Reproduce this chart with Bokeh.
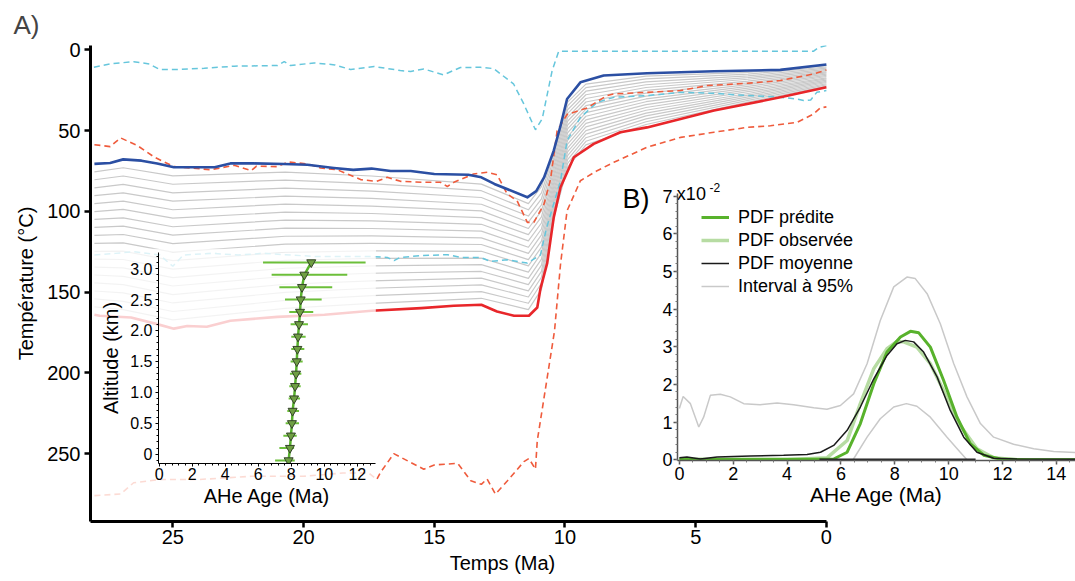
from bokeh.plotting import figure
from bokeh.models import GridBox, Range1d, Label, Legend, LegendItem, FixedTicker, CustomJSTickFormatter
from bokeh.embed import file_html
from bokeh.resources import INLINE

FONT = "Liberation Sans"

# ---------------- Panel A: thermal histories ----------------
TIME_TICKS = [25, 20, 15, 10, 5, 0]
TEMP_TICKS = [0, 50, 100, 150, 200, 250]

cyan_top_t = [28.02, 27.4, 26.5, 25.9, 25.5, 24.96, 23.8, 22.65, 21.0, 20.74, 20.5, 19.6, 18.8, 18.2,
              17.3, 16.3, 15.9, 15.4, 14.65, 14.0, 13.23, 12.73, 11.97, 11.59, 11.13, 10.87, 10.49,
              10.24, 8.0, 5.0, 2.0, 0.5, 0.3, 0.0]
cyan_top_T = [10.8, 8.7, 7.3, 8.7, 12.2, 12.2, 11.4, 10.1, 9.7, 7.3, 9.7, 8.1, 9.3, 12.2,
              10.3, 12.8, 13.4, 11.8, 15.5, 10.9, 10.8, 11.6, 21.0, 33.0, 49.5, 42.6, 12.8,
              0.9, 0.9, 0.9, 0.9, 0.9, -1.5, -2.7]

blue_t = [28.0, 27.4, 26.9, 26.2, 25.6, 24.96, 23.4, 22.8, 21.9, 20.75, 19.85, 18.84, 18.1, 17.4,
          16.67, 15.9, 15.0, 13.7, 13.2, 12.7, 11.44, 11.1, 10.8, 10.43, 10.17, 9.92, 9.41, 8.52,
          6.86, 4.3, 1.76, 0.0]
blue_T = [70.6, 70.0, 67.8, 68.6, 70.3, 72.7, 72.7, 70.3, 70.3, 70.7, 71.1, 73.1, 74.3, 73.5,
          75.0, 75.0, 76.9, 77.3, 78.9, 83.0, 91.3, 87.5, 79.0, 62.4, 47.0, 30.4, 20.1, 15.9,
          14.5, 13.2, 12.4, 9.1]

red_t = [28.0, 27.8, 26.6, 25.6, 24.96, 24.45, 23.7, 22.8, 21.0, 19.2, 17.4, 15.5, 14.25, 13.2,
         12.6, 11.95, 11.38, 11.06, 10.94, 10.68, 10.43, 10.17, 9.66, 8.9, 7.88, 6.86, 4.3, 1.76, 0.0]
red_T = [164.0, 164.6, 165.7, 169.8, 172.6, 171.0, 171.4, 167.7, 165.3, 164.0, 161.5, 159.9, 158.4,
         157.8, 162.0, 164.6, 164.6, 159.5, 148.0, 132.0, 103.7, 85.1, 66.5, 58.2, 51.0, 48.0,
         37.6, 29.4, 23.2]

red_hi_t = [28.0, 27.4, 27.0, 26.35, 25.7, 24.96, 23.55, 22.65, 22.0, 21.8, 21.0, 20.6, 19.85, 19.35,
            18.7, 17.8, 17.2, 16.8, 16.29, 15.4, 14.76, 14.5, 14.25, 13.5, 13.23, 12.97, 12.6, 12.21,
            11.83, 11.44, 11.19, 10.8, 10.55, 10.3, 9.92, 9.15, 8.4, 8.13, 6.86, 5.58, 4.56, 3.03,
            1.76, 0.49, 0.0]
red_hi_T = [58.7, 59.9, 54.5, 59.3, 66.5, 72.3, 74.2, 71.5, 74.8, 72.0, 72.3, 69.4, 70.6, 73.1,
            74.3, 80.4, 81.4, 78.9, 81.4, 82.0, 82.0, 84.6, 82.0, 76.9, 76.3, 75.8, 77.3, 89.2,
            93.5, 106.8, 106.8, 95.4, 80.0, 50.0, 40.0, 36.0, 28.3, 27.3, 26.3, 25.2, 22.1, 20.7,
            19.0, 14.9, 12.4]

red_lo_t = [28.0, 27.0, 26.5, 25.5, 24.0, 22.0, 20.0, 18.5, 17.5, 17.2, 17.06, 16.55, 15.4, 15.0,
            14.1, 13.6, 13.2, 12.98, 12.66, 12.2, 11.57, 11.38, 11.13, 11.06, 10.7, 10.4, 10.17,
            9.92, 9.41, 8.77, 8.13, 6.86, 5.58, 4.3, 3.03, 2.14, 1.12, 0.49, 0.23, 0.0]
red_lo_T = [276, 275, 268, 266, 266, 264, 264, 262, 262, 266, 261.7, 250, 259.6, 257,
            256, 266.8, 269, 265.6, 275, 266.8, 254.9, 253, 259.6, 242, 205, 174, 132.6,
            99.6, 81.0, 74.8, 69.6, 60.3, 54.2, 51.0, 48.0, 47.0, 44.9, 39.7, 35.9, 35.3]

cyan_lo_t = [28.0, 27.2, 26.5, 25.5, 25.0, 24.6, 23.5, 22.5, 21.5, 20.5, 19.5, 18.5, 17.3, 16.8,
             16.54, 16.3, 15.53, 14.5, 14.0, 13.23, 12.85, 12.2, 11.44, 10.94, 10.7, 10.17, 9.92,
             9.41, 8.77, 8.13, 6.86, 5.58, 4.3, 3.03, 2.0, 1.12, 0.87, 0.6, 0.37, 0.0]
cyan_lo_T = [127, 126, 125, 127, 134, 127, 126, 127, 126, 127, 128, 128, 128, 128.5,
             130.5, 128.5, 127.4, 126.8, 128.5, 128.5, 131, 130, 132, 127, 110, 81, 56.2,
             41.8, 32.5, 29.4, 28.3, 26.3, 26.9, 28.3, 29.0, 30.4, 31.4, 31.0, 26.3, 25.2]

# intermediate (grey) histories, read at common time knots
gray_t = [28.0, 26.9, 25.0, 20.7, 17.4, 13.2, 11.4, 10.9, 10.4, 9.9, 9.2, 6.9, 3.0, 0.0]
gray_T = [
    [75.5, 73.0, 78.0, 75.7, 78.1, 83.1, 95.2, 84.7, 60.5, 32.4, 21.2, 16.3, 13.9, 9.8],
    [80.4, 78.1, 83.2, 80.6, 82.8, 87.2, 99.0, 88.5, 62.9, 34.7, 23.4, 18.0, 15.0, 10.6],
    [85.4, 83.3, 88.5, 85.6, 87.4, 91.4, 102.9, 92.2, 65.4, 37.1, 25.6, 19.8, 16.1, 11.3],
    [90.3, 88.5, 93.7, 90.6, 92.0, 95.6, 106.7, 96.0, 67.9, 39.5, 27.8, 21.6, 17.2, 12.1],
    [95.2, 93.6, 99.0, 95.5, 96.7, 99.7, 110.6, 99.7, 70.4, 41.8, 30.1, 23.3, 18.2, 12.8],
    [100.1, 98.8, 104.2, 100.5, 101.3, 103.9, 114.4, 103.4, 72.8, 44.2, 32.3, 25.1, 19.3, 13.6],
    [105.0, 104.0, 109.5, 105.4, 105.9, 108.0, 118.3, 107.2, 75.3, 46.6, 34.5, 26.8, 20.4, 14.3],
    [109.9, 109.1, 114.7, 110.4, 110.6, 112.2, 122.2, 110.9, 77.8, 48.9, 36.7, 28.6, 21.5, 15.0],
    [114.8, 114.3, 120.0, 115.4, 115.2, 116.4, 126.0, 114.6, 80.3, 51.3, 38.9, 30.4, 22.6, 15.8],
    [119.8, 119.5, 125.2, 120.3, 119.8, 120.5, 129.9, 118.4, 82.7, 53.7, 41.1, 32.1, 23.7, 16.5],
    [124.7, 124.6, 130.5, 125.3, 124.5, 124.7, 133.7, 122.1, 85.2, 56.0, 43.3, 33.9, 24.8, 17.3],
    [129.6, 129.8, 135.7, 130.3, 129.1, 128.9, 137.6, 125.8, 87.7, 58.4, 45.5, 35.7, 25.9, 18.0],
    [134.5, 135.0, 141.0, 135.2, 133.7, 133.0, 141.5, 129.6, 90.2, 60.8, 47.7, 37.4, 27.0, 18.7],
    [139.4, 140.2, 146.2, 140.2, 138.3, 137.2, 145.3, 133.3, 92.6, 63.2, 50.0, 39.2, 28.0, 19.5],
    [144.3, 145.3, 151.5, 145.1, 143.0, 141.3, 149.2, 137.1, 95.1, 65.5, 52.2, 40.9, 29.1, 20.2],
    [149.3, 150.5, 156.7, 150.1, 147.6, 145.5, 153.0, 140.8, 97.6, 67.9, 54.4, 42.7, 30.2, 21.0],
    [154.2, 155.7, 162.0, 155.1, 152.2, 149.7, 156.9, 144.5, 100.1, 70.3, 56.6, 44.5, 31.3, 21.7],
    [159.1, 160.8, 167.2, 160.0, 156.9, 153.8, 160.8, 148.3, 102.5, 72.6, 58.8, 46.2, 32.4, 22.4],
]

# ---------------- Inset: age-altitude ----------------
ALT_KM = [3.1, 2.9, 2.7, 2.5, 2.3, 2.1, 1.9, 1.7, 1.5, 1.3, 1.1, 0.9, 0.7, 0.5, 0.3, 0.1, -0.1]
AHE_AGE = [9.21, 8.79, 8.65, 8.57, 8.53, 8.47, 8.41, 8.37, 8.33, 8.29, 8.23, 8.17, 8.08, 8.04,
           7.98, 7.92, 7.84]
AHE_LO = [6.29, 6.81, 7.28, 7.62, 7.88, 7.96, 8.0, 8.0, 7.96, 7.92, 7.88, 7.84, 7.76, 7.66,
          7.52, 7.28, 7.02]
AHE_HI = [12.5, 11.39, 10.48, 9.84, 9.33, 9.01, 8.87, 8.79, 8.69, 8.61, 8.57, 8.53, 8.47, 8.47,
          8.33, 8.17, 8.21]
ALT_TICKS = [0, 0.5, 1.0, 1.5, 2.0, 2.5, 3.0]
AGE_TICKS_INSET = [0, 2, 4, 6, 8, 10, 12]

# ---------------- Panel B: PDFs (x 10^-2) ----------------
int_hi_x = [0.0, 0.14, 0.41, 0.72, 0.9, 1.15, 1.52, 1.89, 2.39, 3.0, 3.63, 4.24, 4.99, 5.48, 5.98,
            6.47, 6.97, 7.46, 7.96, 8.45, 8.76, 9.2, 9.69, 10.19, 10.68, 11.18, 11.67, 12.41,
            13.16, 13.9, 14.7]
int_hi_y = [1.36, 1.68, 1.49, 0.87, 1.13, 1.71, 1.74, 1.67, 1.49, 1.46, 1.51, 1.46, 1.38, 1.34,
            1.44, 1.75, 2.55, 3.70, 4.59, 4.85, 4.81, 4.41, 3.61, 2.55, 1.67, 0.96, 0.6, 0.41,
            0.29, 0.22, 0.19]
int_lo_x = [6.45, 6.97, 7.46, 7.96, 8.43, 8.82, 9.32, 9.94, 10.43, 10.68]
int_lo_y = [0.0, 0.6, 1.09, 1.4, 1.49, 1.42, 1.13, 0.6, 0.2, 0.0]
pred_x = [0, 2, 4, 5.0, 5.73, 6.23, 6.72, 7.22, 7.71, 8.21, 8.58, 8.89, 9.32, 9.81, 10.31, 10.8,
          11.3, 11.92, 13, 14.7]
pred_y = [0.01, 0.01, 0.01, 0.01, 0.02, 0.2, 0.96, 2.02, 2.86, 3.26, 3.41, 3.37, 2.99, 2.11, 1.13,
          0.43, 0.12, 0.02, 0.0, 0.0]
obs_x = [0, 2, 4, 5.48, 6.23, 6.72, 7.22, 7.71, 8.08, 8.33, 8.82, 9.32, 9.81, 10.43, 11.05, 11.67,
         12.5, 14.7]
obs_y = [0.0, 0.0, 0.0, 0.05, 0.51, 1.49, 2.42, 2.95, 3.14, 3.13, 2.99, 2.55, 1.84, 0.91, 0.29,
         0.05, 0.0, 0.0]
mean_x = [0, 0.28, 0.78, 1.4, 2.64, 3.87, 4.74, 5.24, 5.73, 6.23, 6.72, 7.22, 7.71, 8.08, 8.39,
          8.7, 9.07, 9.57, 10.06, 10.56, 11.05, 11.67, 12.5, 14.7]
mean_y = [0.05, 0.07, 0.02, 0.07, 0.1, 0.12, 0.14, 0.2, 0.38, 0.78, 1.4, 2.15, 2.77, 3.08, 3.17,
          3.13, 2.86, 2.2, 1.31, 0.6, 0.2, 0.04, 0.02, 0.01]
rug_x = [5.2, 11.0]
rug_y = [0.0, 0.0]
PDF_X_TICKS = [0, 2, 4, 6, 8, 10, 12, 14]
PDF_Y_TICKS = [0, 1, 2, 3, 4, 5, 6, 7]
LEGEND_LABELS = ["PDF prédite", "PDF observée", "PDF moyenne", "Interval à 95%"]

C_BLUE = "#2b4fa3"
C_RED = "#e8262a"
C_RED_D = "#ef5b3c"
C_CYAN = "#66c6dc"
C_GRAY = "#c9c9c9"
C_GREEN = "#58b22c"
C_LGREEN = "#b7dca3"


def style_axis(ax, size, lw, tick_out, standoff):
    ax.axis_line_color = "black"
    ax.axis_line_width = lw
    ax.major_tick_line_color = "black"
    ax.major_tick_line_width = lw
    ax.major_tick_out = tick_out
    ax.major_tick_in = 0
    ax.major_label_text_font = FONT
    ax.major_label_text_font_size = size
    ax.major_label_text_color = "black"
    ax.major_label_standoff = standoff
    ax.axis_label_text_font = FONT
    ax.axis_label_text_font_style = "normal"
    ax.axis_label_text_color = "black"


# ======== main figure (frame extended right so the x label centres like the original) ========
p = figure(width=1075, height=581, x_range=Range1d(28.15, -3.37), y_range=Range1d(292, -2.7),
           output_backend="svg", toolbar_location=None, title="A)",
           min_border_left=90, min_border_right=161, min_border_top=45, min_border_bottom=60)
p.grid.visible = False
p.outline_line_color = None
p.background_fill_color = "white"
p.border_fill_color = "white"
p.title.text_font = FONT
p.title.text_font_size = "26px"
p.title.text_font_style = "normal"
p.title.align = "left"
p.title.offset = -77
p.title.standoff = 11

style_axis(p.xaxis[0], "20px", 3, 6, 2)
style_axis(p.yaxis[0], "20px", 3, 6, 4)
p.xaxis.bounds = (0, 28.15)
p.xaxis.ticker = FixedTicker(ticks=TIME_TICKS)
p.yaxis.ticker = FixedTicker(ticks=TEMP_TICKS)
p.xaxis.minor_tick_line_color = None
p.yaxis.minor_tick_line_color = None
p.xaxis.major_tick_line_width = 2.5
p.yaxis.major_tick_line_width = 2.5
p.xaxis.axis_label = "Temps (Ma)"
p.xaxis.axis_label_text_font_size = "20px"
p.xaxis.axis_label_standoff = 5
p.yaxis.axis_label = "Température (°C)"
p.yaxis.axis_label_text_font_size = "20px"
p.yaxis.axis_label_standoff = 7

p.multi_line(xs=[gray_t] * len(gray_T), ys=gray_T, line_color=C_GRAY, line_width=1.2,
             line_join="round")
p.line(cyan_lo_t, cyan_lo_T, line_color=C_CYAN, line_width=1.5, line_dash="6 4")
p.line(cyan_top_t, cyan_top_T, line_color=C_CYAN, line_width=1.5, line_dash="6 4")
p.line(red_hi_t, red_hi_T, line_color=C_RED_D, line_width=1.6, line_dash="6 4")
p.line(red_lo_t, red_lo_T, line_color=C_RED_D, line_width=1.6, line_dash="6 4")
p.line(blue_t, blue_T, line_color=C_BLUE, line_width=2.6, line_join="round")
p.line(red_t, red_T, line_color=C_RED, line_width=2.6, line_join="round")

# panel-B captions drawn inside the main frame (they sit over empty space)
p.add_layout(Label(x=7.80, y=92.3, text="B)", text_font=FONT, text_font_size="27px",
                   text_align="left", text_baseline="alphabetic", text_color="black"))
p.add_layout(Label(x=5.72, y=89.2, text="x10", text_font=FONT, text_font_size="18px",
                   text_align="left", text_baseline="alphabetic", text_color="black"))
p.add_layout(Label(x=4.47, y=85.3, text="-2", text_font=FONT, text_font_size="12px",
                   text_align="left", text_baseline="alphabetic", text_color="black"))

# ======== inset: altitude vs age ========
pa = figure(width=284, height=264, x_range=Range1d(-0.04, 13.1), y_range=Range1d(-0.15, 3.26),
            output_backend="svg", toolbar_location=None,
            min_border_left=66, min_border_right=1, min_border_top=4, min_border_bottom=49)
pa.grid.visible = False
pa.outline_line_color = None
pa.background_fill_color = "white"
pa.background_fill_alpha = 0.78
pa.border_fill_color = "white"
pa.border_fill_alpha = 0.78
style_axis(pa.xaxis[0], "16px", 1, 3, 1)
style_axis(pa.yaxis[0], "16px", 1, 3, 3)
pa.xaxis.ticker = FixedTicker(ticks=AGE_TICKS_INSET,
                              minor_ticks=[i * 0.4 for i in range(0, 33)])
pa.yaxis.ticker = FixedTicker(ticks=ALT_TICKS, minor_ticks=[i * 0.1 for i in range(-1, 33)])
pa.yaxis.formatter = CustomJSTickFormatter(code="return tick == 0 ? '0' : tick.toFixed(1);")
for ax in (pa.xaxis[0], pa.yaxis[0]):
    ax.minor_tick_line_color = "black"
    ax.minor_tick_out = 2
    ax.minor_tick_in = 0
    ax.minor_tick_line_width = 1
pa.xaxis.axis_label = "AHe Age (Ma)"
pa.xaxis.axis_label_text_font_size = "20px"
pa.xaxis.axis_label_standoff = 2
pa.yaxis.axis_label = "Altitude (km)"
pa.yaxis.axis_label_text_font_size = "20px"
pa.yaxis.axis_label_standoff = 5

pa.segment(x0=AHE_LO, y0=ALT_KM, x1=AHE_HI, y1=ALT_KM, line_color="#6cbf3a", line_width=2)
pa.line(AHE_AGE, ALT_KM, line_color=C_GREEN, line_width=2.5)
pa.scatter(AHE_AGE, ALT_KM, marker="inverted_triangle", size=9, fill_color="#6f9f43",
           line_color="#34432a", line_width=1)

# ======== panel B: PDFs ========
pb = figure(width=463, height=347, x_range=Range1d(-0.07, 14.71), y_range=Range1d(-0.02, 7.07),
            output_backend="svg", toolbar_location=None,
            min_border_left=65, min_border_right=0, min_border_top=25, min_border_bottom=55)
pb.grid.visible = False
pb.outline_line_color = None
pb.background_fill_alpha = 0
pb.border_fill_alpha = 0
style_axis(pb.xaxis[0], "18px", 1.5, 4, 2)
style_axis(pb.yaxis[0], "18px", 1.5, 4, 1)
for ax in (pb.xaxis[0], pb.yaxis[0]):
    ax.axis_line_color = "#555555"
    ax.major_tick_line_color = "#555555"
    ax.minor_tick_line_color = "#777777"
    ax.minor_tick_out = 2
    ax.minor_tick_in = 0
pb.xaxis.ticker = FixedTicker(ticks=PDF_X_TICKS, minor_ticks=[i * 0.5 for i in range(0, 30)])
pb.yaxis.ticker = FixedTicker(ticks=PDF_Y_TICKS, minor_ticks=[i * 0.2 for i in range(0, 36)])
pb.xaxis.axis_label = "AHe Age (Ma)"
pb.xaxis.axis_label_text_font_size = "21px"
pb.xaxis.axis_label_standoff = 0

r_hi = pb.line(int_hi_x, int_hi_y, line_color=C_GRAY, line_width=1.5)
pb.line(int_lo_x, int_lo_y, line_color=C_GRAY, line_width=1.5)
r_obs = pb.line(obs_x, obs_y, line_color=C_LGREEN, line_width=3.5)
r_pred = pb.line(pred_x, pred_y, line_color=C_GREEN, line_width=3)
r_mean = pb.line(mean_x, mean_y, line_color="#1a1a1a", line_width=1.5)
pb.line(rug_x, rug_y, line_color="#222222", line_width=2.5)

legend = Legend(items=[LegendItem(label=LEGEND_LABELS[0], renderers=[r_pred]),
                       LegendItem(label=LEGEND_LABELS[1], renderers=[r_obs]),
                       LegendItem(label=LEGEND_LABELS[2], renderers=[r_mean]),
                       LegendItem(label=LEGEND_LABELS[3], renderers=[r_hi])],
                location=(24, 163), padding=0, margin=0, spacing=1,
                glyph_width=28, glyph_height=22, label_height=22, label_standoff=9,
                label_text_font=FONT, label_text_font_size="18px", label_text_color="black",
                border_line_color=None, background_fill_alpha=0)
pb.add_layout(legend, "center")

# overlapping grid cells; insets never share an outer grid line with the main plot
grid = GridBox(children=[(p, 0, 0, 5, 5), (pa, 2, 1, 1, 1), (pb, 1, 3, 3, 1)],
               rows=["168px", "80px", "264px", "3px", "66px"],
               cols=["92px", "284px", "236px", "463px", "0px"])

open("out.html", "w").write(file_html(grid, INLINE))
